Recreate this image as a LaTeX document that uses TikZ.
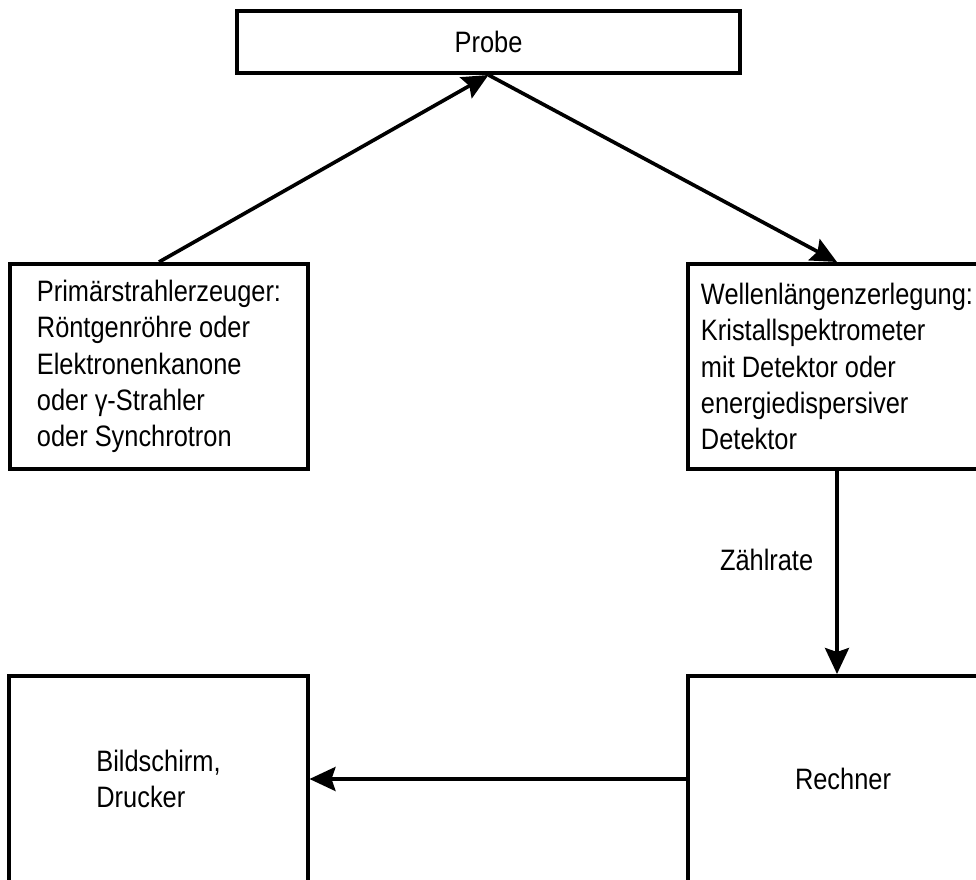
\documentclass[tikz,border=0pt]{standalone}
\usepackage{fontspec}
\setmainfont[FakeStretch=0.86]{Liberation Sans}
\usetikzlibrary{arrows.meta}
\begin{document}
\begin{tikzpicture}[x=0.025cm,y=-0.025cm,
        box/.style={draw,line width=2.8pt,minimum width=7.45cm,minimum height=5.125cm,align=left,inner sep=0pt,
            font=\fontsize{21pt}{25.8pt}\selectfont},
        flow/.style={line width=2.6pt,-{Stealth[length=6.5mm,width=6mm,inset=1mm]}}]
        \clip (0,0) rectangle (976,880);
        \node[box,minimum width=12.575cm,minimum height=1.55cm] (probe) at (488.5,42) {Probe};
        \node[box] (source) at (159,366.5) {Primärstrahlerzeuger:\\Röntgenröhre oder\\Elektronenkanone\\oder γ-Strahler\\oder Synchrotron};
        \node[box] (analyser) at (837,366.5) {Wellenlängenzerlegung:\\Kristallspektrometer\\mit Detektor oder\\energiedispersiver\\Detektor};
        \node[box,minimum height=5.15cm] (computer) at (837,779) {\hspace{0.3cm}Rechner};
        \node[box,minimum height=5.15cm] (display) at (158.5,779) {Bildschirm,\\Drucker};
        \draw[flow] (source.north) -- (probe.south);
        \draw[flow] (probe.south) -- (analyser.north);
        \draw[flow] (analyser.south) -- node[anchor=east,pos=0.44,xshift=-0.55cm,inner sep=0pt,
            font=\fontsize{21pt}{25.8pt}\selectfont] (rate) {Zählrate} (computer.north);
        \draw[flow] (computer.west) -- (display.east);
    \end{tikzpicture}
\end{document}
